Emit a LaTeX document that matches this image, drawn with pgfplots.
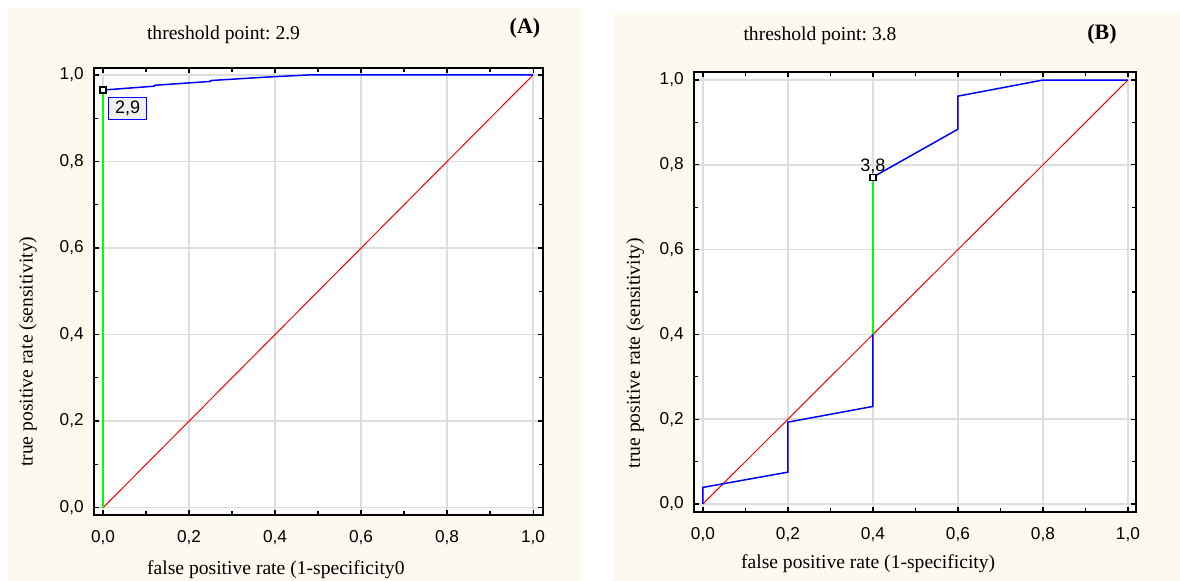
\documentclass[border=0pt]{standalone}
\usepackage{fontspec}
\setmainfont{Liberation Serif}
\setsansfont{Liberation Sans}
\usepackage{pgfplots}
\pgfplotsset{compat=1.18}
\frenchspacing

\definecolor{cream}{RGB}{253,249,238}
\definecolor{gridgray}{RGB}{221,221,221}

\pgfplotsset{
  rocaxis/.style={
    scale only axis,
    axis background/.style={fill=white},
    axis line style={black, line width=0.9pt},
    grid=major,
    major grid style={gridgray, line width=0.75pt},
    xtick={0,0.2,...,1.0}, ytick={0,0.2,...,1.0},
    minor tick num=1,
    tick align=inside,
    major tick length=2.5pt, minor tick length=2pt,
    tick style={black, line width=0.6pt},
    xticklabel style={font=\sffamily\fontsize{8.6}{10}\selectfont, inner sep=0pt, anchor=north, yshift=-7.5pt},
    yticklabel style={font=\sffamily\fontsize{8.6}{10}\selectfont, inner sep=0pt, anchor=east, xshift=-5pt},
    /pgf/number format/.cd, use comma, fixed, fixed zerofill, precision=1, assume math mode=true,
    /pgfplots/.cd,
    label style={font=\fontsize{9.8}{12}\selectfont},
    xlabel style={anchor=center},
    ylabel style={anchor=center},
  },
  threshmark/.style={only marks, mark=square*, mark size=1.5pt,
    mark options={draw=black, fill=white, line width=0.6pt}},
}

\begin{document}
\begin{tikzpicture}[x=1pt, y=1pt]
% page and panel backgrounds
\fill[white] (0,0) rectangle (590,290.5);
\useasboundingbox (0,0) rectangle (590,290.5);
\fill[cream] (4,0) rectangle (291.5,286.5);
\fill[cream] (307,0) rectangle (590,284);

% ---------- panel A ----------
\begin{axis}[rocaxis,
  at={(47pt,33pt)}, anchor=south west,
  width=224.5pt, height=223.5pt,
  xmin=-0.021, xmax=1.023, ymin=-0.017, ymax=1.016,
  xlabel={false positive rate (1-specificity0},
  ylabel={true positive rate (sensitivity)},
  xlabel style={at={(axis description cs:0.405,-0.123)}},
  ylabel style={at={(axis description cs:-0.147,0.365)}},
]
\addplot[red, line width=0.5pt] coordinates {(0,0) (1,1)};
\addplot[blue, line width=0.75pt] coordinates {
  (0,0.965) (0.12,0.974) (0.12,0.976) (0.25,0.985) (0.25,0.987)
  (0.38,0.995) (0.48,1.0) (1,1)};
\addplot[green, line width=0.6pt] coordinates {(0,0) (0,0.965)};
\addplot[threshmark] coordinates {(0,0.965)};
\node[draw=blue, line width=0.6pt, fill=gray!12, anchor=north west, inner sep=0pt,
      minimum width=19pt, minimum height=11pt,
      font=\sffamily\fontsize{9}{10}\selectfont]
  at (axis cs:0,0.965) [xshift=2.5pt, yshift=-3.5pt] {2,9};
\end{axis}

\node[font=\fontsize{9.8}{12}\selectfont] at (111.75,273) {threshold point: 2.9};
\node[font=\bfseries\fontsize{11}{13}\selectfont] at (262.5,276.5) {(A)};

% ---------- panel B ----------
\begin{axis}[rocaxis,
  at={(347pt,34.5pt)}, anchor=south west,
  width=221pt, height=220pt,
  xmin=-0.021, xmax=1.019, ymin=-0.019, ymax=1.019,
  xlabel={false positive rate (1-specificity)},
  ylabel={true positive rate (sensitivity)},
  xlabel style={at={(axis description cs:0.394,-0.118)}},
  ylabel style={at={(axis description cs:-0.133,0.361)}},
]
\addplot[red, line width=0.5pt] coordinates {(0,0) (1,1)};
\addplot[blue, line width=0.75pt] coordinates {
  (0,0) (0,0.039) (0.2,0.075) (0.2,0.193) (0.4,0.23) (0.4,0.771)
  (0.6,0.884) (0.6,0.962) (0.8,1.0) (1,1)};
\addplot[green, line width=0.6pt] coordinates {(0.4,0.4) (0.4,0.771)};
\addplot[threshmark] coordinates {(0.4,0.771)};
\node[font=\sffamily\fontsize{9}{10}\selectfont, inner sep=0pt]
  at (axis cs:0.4,0.771) [yshift=5.5pt] {3,8};
\end{axis}

\node[font=\fontsize{9.8}{12}\selectfont] at (410,272.5) {threshold point: 3.8};
\node[font=\bfseries\fontsize{11}{13}\selectfont] at (551,273.5) {(B)};
\end{tikzpicture}
\end{document}
